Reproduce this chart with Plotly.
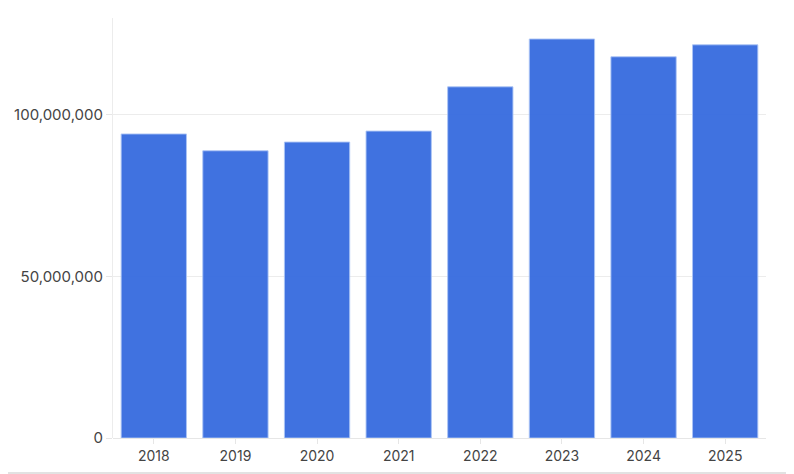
import plotly.graph_objects as go

years = ["2018", "2019", "2020", "2021", "2022", "2023", "2024", "2025"]
values = [94100000, 88900000, 91600000, 95000000, 108700000, 123500000, 118000000, 121700000]
y_ticks = [0, 50000000, 100000000]
y_tick_text = ["0", "50,000,000", "100,000,000"]

fig = go.Figure(
    go.Bar(
        x=years,
        y=values,
        marker=dict(color="#3a6ee0", opacity=0.97,
                    line=dict(color="rgba(170,195,245,0.9)", width=1)),
    )
)

fig.update_layout(
    width=786,
    height=466,
    margin=dict(l=105, r=28, t=10, b=36),
    paper_bgcolor="white",
    plot_bgcolor="white",
    bargap=0.2,
    showlegend=False,
    font=dict(family="Inter", size=14, color="#444"),
    shapes=[
        dict(type="line", xref="paper", yref="paper", x0=-105/653, x1=1 + 28/653,
             y0=-35/420, y1=-35/420, line=dict(color="#e2e2e2", width=2)),
    ],
)

fig.update_xaxes(
    type="category",
    showgrid=False,
    ticks="outside",
    ticklen=5,
    tickcolor="#e6e6e6",
    showline=False,
    automargin=False,
    tickfont=dict(size=14, color="#444"),
)

fig.update_yaxes(
    range=[0, 130000000],
    tickvals=y_ticks,
    ticktext=y_tick_text,
    showgrid=True,
    gridcolor="#ececec",
    gridwidth=1,
    zeroline=True,
    zerolinecolor="#e6e6e6",
    zerolinewidth=1,
    showline=True,
    linecolor="#ececec",
    linewidth=1,
    ticks="outside",
    ticklen=6,
    tickcolor="#e6e6e6",
    automargin=False,
    tickfont=dict(size=15, color="#444"),
    layer="below traces",
)

fig.write_html("out.html")
